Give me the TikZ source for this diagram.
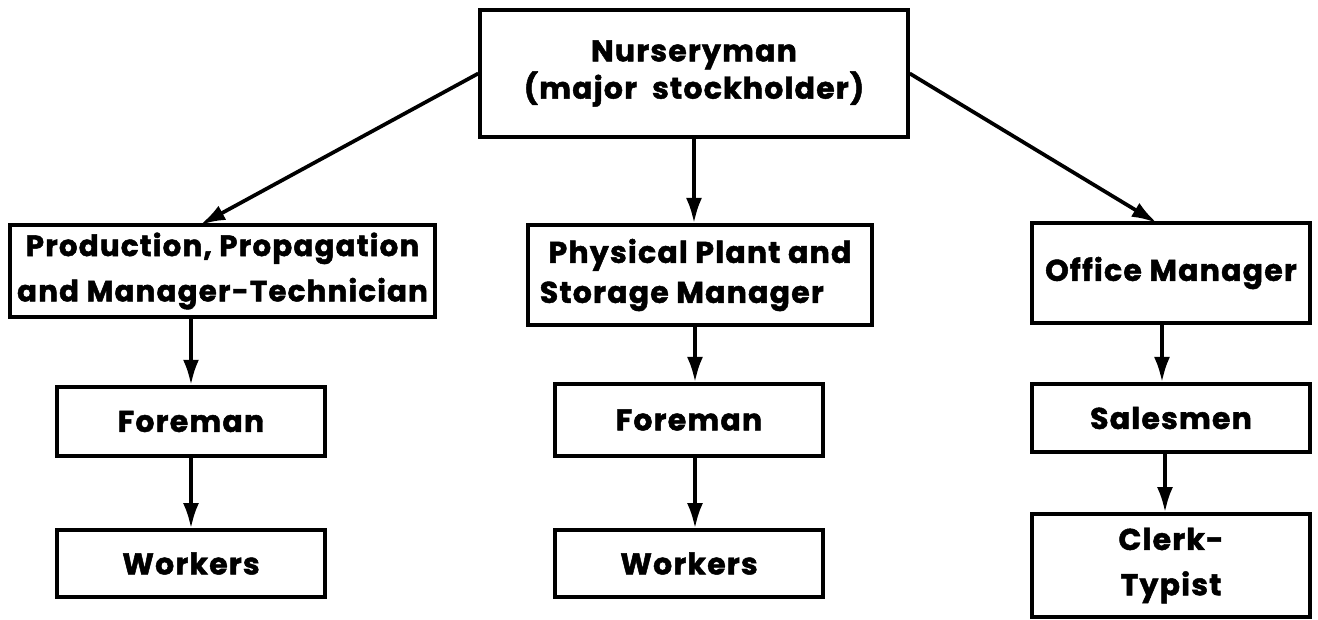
\documentclass[tikz,border=0pt]{standalone}
\usepackage{fontspec}
\setmainfont{Poppins}[LetterSpace=4.0, BoldFeatures={FakeBold=1.6}]
\usetikzlibrary{arrows.meta,calc}

\tikzset{
  orgbox/.style={draw, line width=2.6pt, inner sep=0pt, align=center,
    font=\fontsize{22.5pt}{34pt}\selectfont\bfseries},
  link/.style={line width=2.8pt, -{Latex[length=19pt,width=12pt]}},
}

\begin{document}
\begin{tikzpicture}[x=0.75pt,y=-0.75pt]
  \useasboundingbox (0,0) rectangle (1318,620);

  % top of the chart
  \node[orgbox, minimum width=321pt, minimum height=95pt,
        font=\fontsize{22.5pt}{28pt}\selectfont\bfseries] (owner) at (694,73.5)
    {Nurseryman\\(major\ \ stockholder)};

  % three managers
  \node[orgbox, minimum width=319pt, minimum height=69pt,
        font=\fontsize{22pt}{34pt}\selectfont\bfseries] (prod) at (222.5,271)
    {Production, Propagation\\and Manager-Technician};
  \node[orgbox, minimum width=258pt, minimum height=75pt,
        font=\fontsize{22.5pt}{30pt}\selectfont\bfseries] (plant) at (700,275)
    {Physical Plant and\\Storage Manager\phantom{xx}};
  \node[orgbox, minimum width=208.5pt, minimum height=75pt] (office) at (1171,273)
    {Office Manager};

  % staff under each manager
  \node[orgbox, minimum width=201pt, minimum height=52pt] (fore1) at (191,421.5) {Foreman};
  \node[orgbox, minimum width=201pt, minimum height=50pt] (work1) at (191,563.5) {Workers};
  \node[orgbox, minimum width=201pt, minimum height=54pt] (fore2) at (689,420) {Foreman};
  \node[orgbox, minimum width=201pt, minimum height=50pt] (work2) at (689,563.5) {Workers};
  \node[orgbox, minimum width=208.5pt, minimum height=51pt] (sales) at (1171,418) {Salesmen};
  \node[orgbox, minimum width=208.5pt, minimum height=77pt] (clerk) at (1171,565.5) {Clerk-\\Typist};

  % arrow landing points on the manager boxes
  \coordinate (prodhit) at (200,225);
  \coordinate (officehit) at (1157,223);

  \draw[link] (owner.west) -- (prodhit);
  \draw[link] (owner.south) -- (owner.south |- plant.north);
  \draw[link] (owner.east) -- (officehit);

  \draw[link] (fore1.north |- prod.south) -- (fore1.north);
  \draw[link] (fore1.south) -- (work1.north);

  \draw[link] ([xshift=-3.75pt]plant.south) -- ([xshift=-3.75pt]plant.south |- fore2.north);
  \draw[link] ([xshift=4.5pt]fore2.south) -- ([xshift=4.5pt]work2.north);

  \draw[link] ([xshift=-6.75pt]office.south) -- ([xshift=-6.75pt]office.south |- sales.north);
  \draw[link] ([xshift=-4.5pt]sales.south) -- ([xshift=-4.5pt]clerk.north);
\end{tikzpicture}
\end{document}
